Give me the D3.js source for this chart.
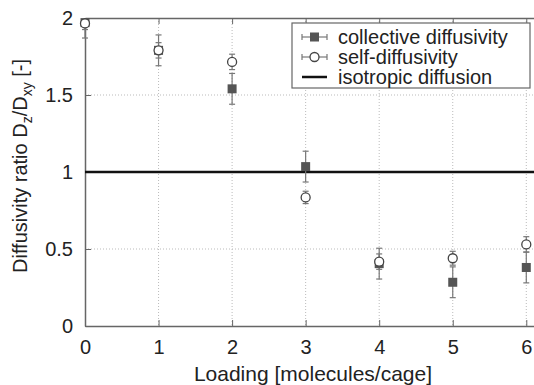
<!DOCTYPE html>
<html>
<head>
<meta charset="utf-8">
<script src="https://cdn.jsdelivr.net/npm/d3@7"></script>
<style>
  body { margin: 0; background: #fff; }
  text { font-family: "Liberation Sans", Arial, sans-serif; fill: #222; }
</style>
</head>
<body>
<script>
var width = 534;
var height = 385;

// data
var loading = [0, 1, 2, 3, 4, 5, 6];
var collective = [1.97, 1.79, 1.54, 1.035, 0.405, 0.284, 0.38];
var collectiveErr = [0.1, 0.1, 0.1, 0.1, 0.1, 0.1, 0.1];
var selfDiff = [1.965, 1.79, 1.715, 0.835, 0.418, 0.44, 0.53];
var selfErr = [0.04, 0.05, 0.05, 0.04, 0.05, 0.045, 0.05];
var xTicks = [0, 1, 2, 3, 4, 5, 6];
var yTicks = [0, 0.5, 1, 1.5, 2];
var isotropic = 1;
var legendLabels = ["collective diffusivity", "self-diffusivity", "isotropic diffusion"];

var mLeft = 85, mTop = 18, mRight = 541, mBottom = 326;

var svg = d3.select("body")
  .append("svg")
  .attr("width", width)
  .attr("height", height);

var x = d3.scaleLinear().domain([0, 6.2]).range([mLeft, mRight]);
var y = d3.scaleLinear().domain([0, 2]).range([mBottom, mTop]);

// grid
svg.append("g").selectAll("line")
  .data(xTicks.slice(1))
  .enter().append("line")
  .attr("x1", function(d){ return x(d); })
  .attr("x2", function(d){ return x(d); })
  .attr("y1", mTop).attr("y2", mBottom)
  .attr("stroke", "#bbb").attr("stroke-width", 1).attr("stroke-dasharray", "1,2");
svg.append("g").selectAll("line")
  .data(yTicks.slice(1, 4))
  .enter().append("line")
  .attr("x1", mLeft).attr("x2", mRight)
  .attr("y1", function(d){ return y(d); })
  .attr("y2", function(d){ return y(d); })
  .attr("stroke", "#bbb").attr("stroke-width", 1).attr("stroke-dasharray", "1,2");

// axes (ticks inward, labels outside)
var xAxis = svg.append("g")
  .attr("transform", "translate(0," + mBottom + ")")
  .call(d3.axisBottom(x).tickValues(xTicks).tickSizeInner(-6).tickSizeOuter(0).tickPadding(14).tickFormat(d3.format("d")));
var xTop = svg.append("g")
  .attr("transform", "translate(0," + mTop + ")")
  .call(d3.axisTop(x).tickValues(xTicks).tickSizeInner(-6).tickSizeOuter(0).tickFormat(""));
var yAxis = svg.append("g")
  .attr("transform", "translate(" + mLeft + ",0)")
  .call(d3.axisLeft(y).tickValues(yTicks).tickSizeInner(-6).tickSizeOuter(0).tickPadding(12).tickFormat(function(d){ return d; }));

[xAxis, xTop, yAxis].forEach(function(g){
  g.select(".domain").attr("stroke", "#666").attr("stroke-width", 1.5);
  g.selectAll(".tick line").attr("stroke", "#666").attr("stroke-width", 1);
  g.selectAll(".tick text").style("font-family", "Liberation Sans, Arial, sans-serif")
    .style("font-size", "20px").attr("fill", "#222");
});

// isotropic line
svg.append("line")
  .attr("x1", mLeft).attr("x2", mRight)
  .attr("y1", y(isotropic)).attr("y2", y(isotropic))
  .attr("stroke", "#111").attr("stroke-width", 2.5);

// error bars
function errorBars(vals, errs){
  var g = svg.append("g");
  loading.forEach(function(d, i){
    var lo = Math.max(0, vals[i] - errs[i]), hi = Math.min(2, vals[i] + errs[i]);
    g.append("line").attr("x1", x(d)).attr("x2", x(d)).attr("y1", y(lo)).attr("y2", y(hi))
      .attr("stroke", "#777").attr("stroke-width", 1.2);
    [lo, hi].forEach(function(v){
      if (v >= 2) return;
      g.append("line").attr("x1", x(d) - 3).attr("x2", x(d) + 3).attr("y1", y(v)).attr("y2", y(v))
        .attr("stroke", "#777").attr("stroke-width", 1.2);
    });
  });
}
errorBars(collective, collectiveErr);
errorBars(selfDiff, selfErr);

svg.append("g").selectAll("rect")
  .data(loading)
  .enter().append("rect")
  .attr("x", function(d){ return x(d) - 4.5; })
  .attr("y", function(d, i){ return y(collective[i]) - 4.5; })
  .attr("width", 9).attr("height", 9)
  .attr("fill", "#555");

svg.append("g").selectAll("circle")
  .data(loading)
  .enter().append("circle")
  .attr("cx", function(d){ return x(d); })
  .attr("cy", function(d, i){ return y(selfDiff[i]); })
  .attr("r", 4.5)
  .attr("fill", "#fff").attr("stroke", "#444").attr("stroke-width", 1.3);

// legend
var lg = svg.append("g");
lg.append("rect").attr("x", 292).attr("y", 23).attr("width", 238).attr("height", 65)
  .attr("fill", "#fff").attr("stroke", "#666").attr("stroke-width", 1.2);
var rows = [37, 57, 77];
legendLabels.forEach(function(lab, i){
  var cy = rows[i];
  if (i < 2) {
    lg.append("line").attr("x1", 302).attr("x2", 327).attr("y1", cy).attr("y2", cy)
      .attr("stroke", "#777").attr("stroke-width", 1.2);
    [302, 327].forEach(function(cx){
      lg.append("line").attr("x1", cx).attr("x2", cx).attr("y1", cy - 3).attr("y2", cy + 3)
        .attr("stroke", "#777").attr("stroke-width", 1.2);
    });
    if (i === 0) {
      lg.append("rect").attr("x", 310).attr("y", cy - 4.5).attr("width", 9).attr("height", 9).attr("fill", "#555");
    } else {
      lg.append("circle").attr("cx", 314.5).attr("cy", cy).attr("r", 4.5)
        .attr("fill", "#fff").attr("stroke", "#444").attr("stroke-width", 1.3);
    }
  } else {
    lg.append("line").attr("x1", 302).attr("x2", 327).attr("y1", cy).attr("y2", cy)
      .attr("stroke", "#111").attr("stroke-width", 2.5);
  }
  lg.append("text").attr("x", 338).attr("y", cy + 7).style("font-size", "20px").text(lab);
});

// axis titles
svg.append("text")
  .attr("x", (mLeft + mRight) / 2).attr("y", 381)
  .attr("text-anchor", "middle").style("font-size", "21px")
  .text("Loading [molecules/cage]");

var yt = svg.append("text")
  .attr("transform", "translate(27,166) rotate(-90)")
  .attr("text-anchor", "middle").style("font-size", "20px");
yt.append("tspan").text("Diffusivity ratio D");
yt.append("tspan").attr("dy", 5).style("font-size", "14px").text("z");
yt.append("tspan").attr("dy", -5).text("/D");
yt.append("tspan").attr("dy", 5).style("font-size", "14px").text("xy");
yt.append("tspan").attr("dy", -5).text(" [-]");
</script>
</body>
</html>
